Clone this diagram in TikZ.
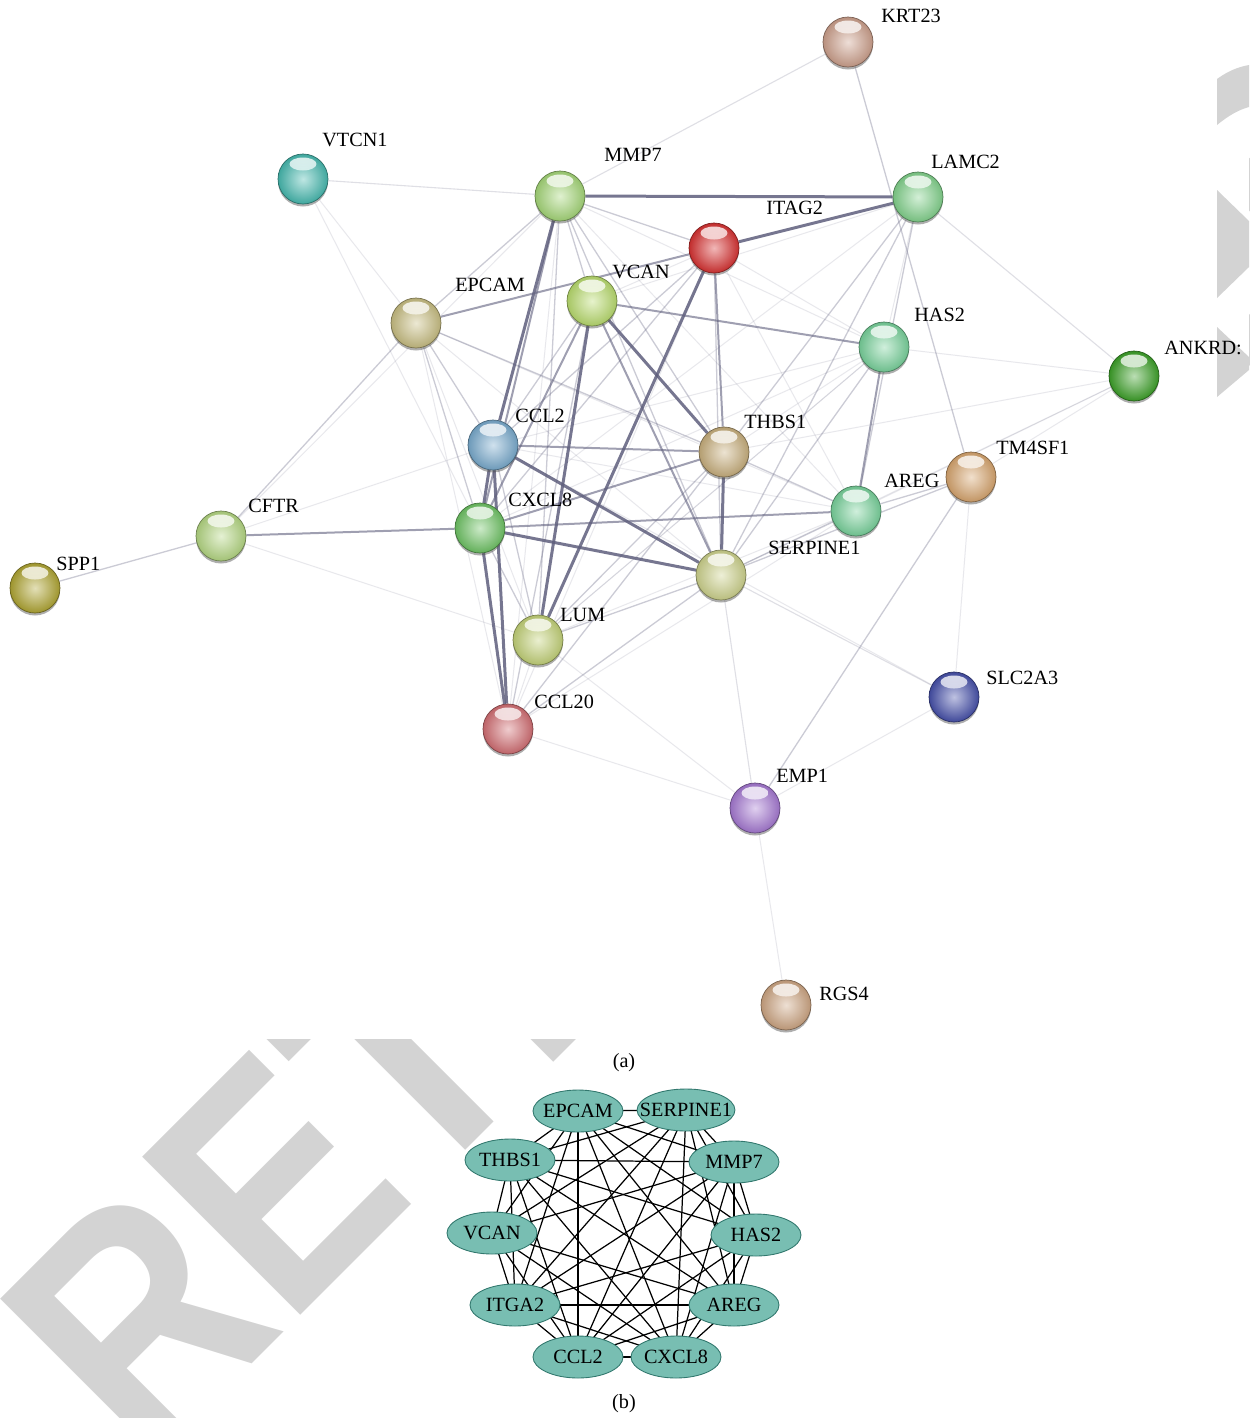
\documentclass[tikz,border=0pt]{standalone}
\usepackage{fontspec}
\setmainfont{Liberation Serif}
\newfontfamily\wmfont{Liberation Sans}
\usetikzlibrary{shapes.geometric,shadows}
\pgfdeclarelayer{wm}
\pgfdeclarelayer{bg}
\pgfsetlayers{wm,bg,main}
\definecolor{cKRT}{RGB}{205,160,140}
\definecolor{cVTCN}{RGB}{70,185,175}
\definecolor{cMMP}{RGB}{165,215,120}
\definecolor{cLAMC}{RGB}{130,210,140}
\definecolor{cITAG}{RGB}{215,50,50}
\definecolor{cEPCAM}{RGB}{200,190,130}
\definecolor{cVCAN}{RGB}{185,220,110}
\definecolor{cHAS}{RGB}{120,210,155}
\definecolor{cANK}{RGB}{60,160,40}
\definecolor{cCCLtwo}{RGB}{120,170,205}
\definecolor{cTHBS}{RGB}{200,175,125}
\definecolor{cTMF}{RGB}{215,165,110}
\definecolor{cAREG}{RGB}{120,210,155}
\definecolor{cCFTR}{RGB}{180,215,130}
\definecolor{cCXCL}{RGB}{110,195,100}
\definecolor{cSERP}{RGB}{205,210,140}
\definecolor{cSPP}{RGB}{175,165,50}
\definecolor{cLUM}{RGB}{195,210,120}
\definecolor{cSLC}{RGB}{70,80,170}
\definecolor{cCCLtw}{RGB}{210,110,115}
\definecolor{cEMP}{RGB}{165,120,210}
\definecolor{cRGS}{RGB}{205,165,130}
\definecolor{edgec}{RGB}{95,95,125}
\definecolor{wmgray}{RGB}{211,211,211}
\definecolor{tealfill}{RGB}{120,190,178}
\definecolor{tealdraw}{RGB}{50,120,110}
\begin{document}
\begin{tikzpicture}[x=0.02cm,y=-0.02cm,
  ball/.style={circle, minimum size=1cm, inner sep=0pt, draw=#1!60!black, line width=0.4pt,
    inner color=#1!35!white, outer color=#1!90!black,
    drop shadow={shadow xshift=0pt, shadow yshift=-0.05cm, opacity=0.45, fill=black!70},
    path picture={\shade[top color=white, bottom color=#1!40!white, opacity=0.8]
      ([yshift=-0.2cm]path picture bounding box.north) ellipse [x radius=0.27cm, y radius=0.13cm];}},
  lab/.style={anchor=base west, inner sep=0pt, font=\fontsize{11.5}{13}\selectfont},
  captext/.style={inner sep=0pt, font=\fontsize{11.5}{13}\selectfont},
  e4/.style={edgec, line width=0.06cm, opacity=0.85},
  e3/.style={edgec, line width=0.04cm, opacity=0.6},
  e2/.style={edgec, line width=0.026cm, opacity=0.32},
  e15/.style={edgec, line width=0.022cm, opacity=0.2},
  e1/.style={edgec, line width=0.02cm, opacity=0.14},
  bnode/.style={ellipse, draw=tealdraw, line width=0.5pt, fill=tealfill, minimum width=1.8cm,
    minimum height=0.84cm, inner xsep=-6.5pt, inner ysep=0pt, font=\fontsize{11.5}{13}\selectfont},
  bedge/.style={black, line width=0.7pt}]
\useasboundingbox (0,0) rectangle (1249,1418);
% watermark
\begin{pgfonlayer}{wm}
\begin{scope}
\clip (0,0) rectangle (1249,1418);
\node[anchor=base west, rotate=45, inner sep=0pt, text=wmgray,
  font=\wmfont\bfseries\fontsize{185}{185}\selectfont] (wmark) at (145,1471) {\scalebox{0.86}[1]{RETRACTED}};
\fill[white] (0,0) rectangle (1249,1039);
\end{scope}
\fill[wmgray] (1217,79) .. controls (1228,71) and (1238,67) .. (1249,65) -- (1249,107)
  .. controls (1238,110) and (1228,116) .. (1217,125) -- cycle;
\fill[wmgray] (1217,190) -- (1249,221) -- (1249,267) -- (1217,298) -- cycle;
\fill[wmgray] (1217,327) -- (1249,357) -- (1249,370) -- (1217,397) -- cycle;
\end{pgfonlayer}
% balls (a)
\foreach \n/\x/\y/\c in {KRT23/848/42/cKRT, VTCN1/303/179/cVTCN, MMP7/560/196/cMMP,
  LAMC2/918/197/cLAMC, ITAG2/714/248/cITAG, EPCAM/416/323/cEPCAM, VCAN/592/301/cVCAN,
  HAS2/884/347/cHAS, ANKRD/1134/376/cANK, CCL2/493/445/cCCLtwo, THBS1/724/452/cTHBS,
  TM4SF1/971/477/cTMF, AREG/856/511/cAREG, CFTR/221/536/cCFTR, CXCL8/480/528/cCXCL,
  SERPINE1/721/575/cSERP, SPP1/35/588/cSPP, LUM/538/640/cLUM, SLC2A3/954/697/cSLC,
  CCL20/508/729/cCCLtw, EMP1/755/808/cEMP, RGS4/786/1005/cRGS}
  \node[ball=\c] (\n) at (\x,\y) {};
% labels (a)
\node[lab] (lKRT23) at (881,22) {KRT23};
\node[lab] (lVTCN1) at (322,146) {VTCN1};
\node[lab] (lMMP7) at (604,161) {MMP7};
\node[lab] (lLAMC2) at (931,168) {LAMC2};
\node[lab] (lITAG2) at (766,214) {ITAG2};
\node[lab] (lEPCAM) at (455,291) {EPCAM};
\node[lab] (lVCAN) at (612,278) {VCAN};
\node[lab] (lHAS2) at (914,321) {HAS2};
\node[lab] (lANKRD) at (1164,354) {ANKRD:};
\node[lab] (lCCL2) at (515,422) {CCL2};
\node[lab] (lTHBS1) at (744,428) {THBS1};
\node[lab] (lTM4SF1) at (996,454) {TM4SF1};
\node[lab] (lAREG) at (884,487) {AREG};
\node[lab] (lCFTR) at (248,512) {CFTR};
\node[lab] (lCXCL8) at (508,506) {CXCL8};
\node[lab] (lSERPINE1) at (768,554) {SERPINE1};
\node[lab] (lSPP1) at (56,570) {SPP1};
\node[lab] (lLUM) at (560,621) {LUM};
\node[lab] (lSLC2A3) at (986,684) {SLC2A3};
\node[lab] (lCCL20) at (534,708) {CCL20};
\node[lab] (lEMP1) at (776,782) {EMP1};
\node[lab] (lRGS4) at (819,1000) {RGS4};
\node[captext] (capa) at (624,1063) {(a)};
% edges (a)
\begin{pgfonlayer}{bg}
\foreach \a/\b in {MMP7/LAMC2, ITAG2/LAMC2, VCAN/THBS1, CCL2/CXCL8, CCL2/CCL20, CXCL8/CCL20,
  CCL2/SERPINE1, MMP7/CCL2, VCAN/LUM, ITAG2/LUM, THBS1/SERPINE1, CXCL8/SERPINE1}
  \draw[e4] (\a) -- (\b);
\foreach \a/\b in {VCAN/HAS2, ITAG2/THBS1, CXCL8/THBS1, CCL2/THBS1, CXCL8/AREG, CFTR/CXCL8,
  EPCAM/ITAG2, MMP7/CXCL8, HAS2/AREG, VCAN/CXCL8, VCAN/SERPINE1}
  \draw[e3] (\a) -- (\b);
\foreach \a/\b in {SPP1/CFTR, KRT23/TM4SF1, TM4SF1/EMP1, MMP7/VCAN, MMP7/THBS1, MMP7/SERPINE1,
  MMP7/ITAG2, MMP7/LUM, MMP7/EPCAM, VCAN/CCL2, VCAN/CCL20, ITAG2/SERPINE1, ITAG2/CXCL8,
  ITAG2/CCL2, THBS1/AREG, SERPINE1/AREG, SERPINE1/TM4SF1, SERPINE1/LUM, SERPINE1/CCL20,
  SERPINE1/HAS2, LUM/THBS1, LUM/CXCL8, LUM/CCL2, EPCAM/CCL2, EPCAM/CXCL8, EPCAM/THBS1,
  LAMC2/SERPINE1, LAMC2/THBS1, LAMC2/AREG, CCL20/THBS1, AREG/TM4SF1, EPCAM/CFTR}
  \draw[e2] (\a) -- (\b);
\foreach \a/\b in {LAMC2/ANKRD, KRT23/MMP7, VTCN1/MMP7, SLC2A3/SERPINE1, EMP1/SERPINE1}
  \draw[e15] (\a) -- (\b);
\foreach \a/\b in {VTCN1/EPCAM, VTCN1/CXCL8, MMP7/CFTR, CFTR/CCL2, CFTR/LUM, HAS2/ANKRD,
  THBS1/ANKRD, AREG/ANKRD, TM4SF1/ANKRD, SERPINE1/ANKRD, LAMC2/HAS2, LAMC2/VCAN, LAMC2/CXCL8,
  HAS2/THBS1, HAS2/CCL2, HAS2/CXCL8, HAS2/LUM, SLC2A3/TM4SF1, SLC2A3/EMP1,
  SLC2A3/CCL2, EMP1/CCL20, EMP1/LUM, EMP1/RGS4, CCL20/LUM, CCL20/EPCAM,
  CCL20/MMP7, LUM/AREG, LUM/HAS2, EPCAM/SERPINE1, EPCAM/LUM, EPCAM/AREG, ITAG2/HAS2,
  ITAG2/AREG, ITAG2/VCAN, ITAG2/CCL20, MMP7/HAS2, MMP7/AREG, CCL2/AREG, AREG/CCL20}
  \draw[e1] (\a) -- (\b);
\end{pgfonlayer}
% panel (b)
\node[bnode] (bEPCAM) at (578,1111) {EPCAM};
\node[bnode] (bSERPINE1) at (686,1110) {SERPINE1};
\node[bnode] (bTHBS1) at (510,1160) {THBS1};
\node[bnode] (bMMP7) at (734,1162) {MMP7};
\node[bnode] (bVCAN) at (492,1233) {VCAN};
\node[bnode] (bHAS2) at (756,1235) {HAS2};
\node[bnode] (bITGA2) at (515,1305) {ITGA2};
\node[bnode] (bAREG) at (734,1305) {AREG};
\node[bnode] (bCCL2) at (578,1357) {CCL2};
\node[bnode] (bCXCL8) at (676,1357) {CXCL8};
\node[captext] (capb) at (624,1404) {(b)};
\begin{pgfonlayer}{bg}
\foreach \a/\b in {EPCAM/SERPINE1, EPCAM/THBS1, EPCAM/MMP7, EPCAM/VCAN, EPCAM/HAS2, EPCAM/ITGA2,
  EPCAM/AREG, EPCAM/CCL2, EPCAM/CXCL8,
  SERPINE1/THBS1, SERPINE1/MMP7, SERPINE1/VCAN, SERPINE1/HAS2, SERPINE1/ITGA2, SERPINE1/AREG,
  SERPINE1/CCL2, SERPINE1/CXCL8,
  THBS1/MMP7, THBS1/VCAN, THBS1/HAS2, THBS1/ITGA2, THBS1/AREG, THBS1/CCL2, THBS1/CXCL8,
  MMP7/VCAN, MMP7/HAS2, MMP7/ITGA2, MMP7/AREG, MMP7/CCL2, MMP7/CXCL8,
  VCAN/ITGA2, VCAN/AREG, VCAN/CCL2, VCAN/CXCL8,
  HAS2/ITGA2, HAS2/AREG, HAS2/CCL2, HAS2/CXCL8,
  ITGA2/AREG, ITGA2/CCL2, ITGA2/CXCL8,
  AREG/CCL2, AREG/CXCL8, CCL2/CXCL8}
  \draw[bedge] (b\a.center) -- (b\b.center);
\end{pgfonlayer}
\end{tikzpicture}
\end{document}
